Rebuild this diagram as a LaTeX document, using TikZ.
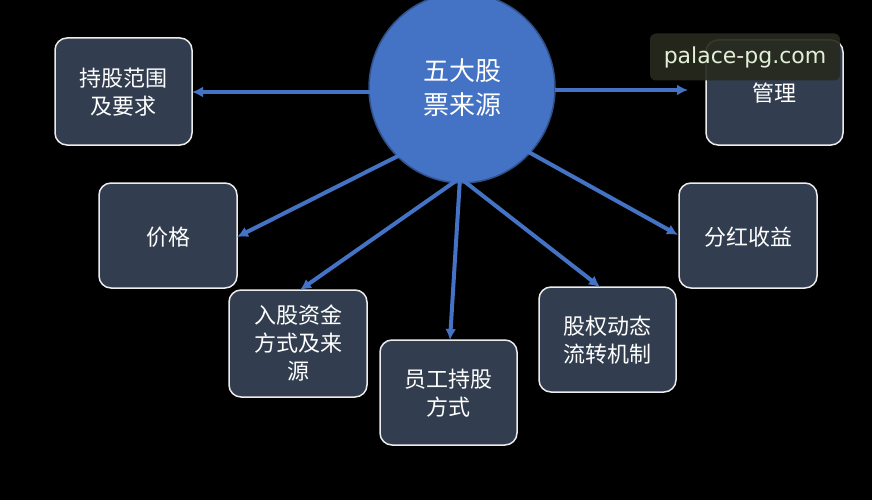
\documentclass[tikz,border=0pt]{standalone}
\usepackage{fontspec}
\setmainfont{Noto Sans CJK SC}
\newfontfamily\wm{DejaVu Sans}
\usetikzlibrary{arrows.meta,shapes.geometric}
\begin{document}
\begin{tikzpicture}[x=1pt,y=-1pt,
 box/.style={draw=white!85!gray,line width=1.5pt,fill=boxc,rounded corners=12pt},
 lab/.style={text=white,align=center,font=\fontsize{22}{28}\selectfont},
 arr/.style={draw=arrc,line width=4pt,-{Latex[length=11pt,width=11pt]}}]
\definecolor{boxc}{HTML}{323E4F}
\definecolor{arrc}{HTML}{4472C4}
\useasboundingbox (0,0) rectangle (872,500);
\clip (0,0) rectangle (872,500);
\fill[black] (0,0) rectangle (872,500);
\node[draw=arrc!70!black,line width=1.5pt,fill=arrc,ellipse,minimum width=186pt,minimum height=190pt,inner sep=0pt,text=white,align=center,font=\fontsize{26}{34}\selectfont] (c) at (462,88) {五大股\\票来源};
\path[box] (55,38) rectangle (192,145); \node[lab] (a) at (123.5,92) {持股范围\\及要求};
\path[box] (706,40) rectangle (843,145); \node[lab] (b) at (774.5,93) {管理};
\path[box] (99,183) rectangle (237,288); \node[lab] (p) at (168,237) {价格};
\path[box] (679,183) rectangle (817,288); \node[lab] (f) at (748,237) {分红收益};
\path[box] (229,290) rectangle (367,397); \node[lab] (r) at (298,343) {入股资金\\方式及来\\源};
\path[box] (380,340) rectangle (517,445); \node[lab] (y) at (448.5,393) {员工持股\\方式};
\path[box] (539,287) rectangle (676,392); \node[lab] (g) at (607.5,340) {股权动态\\流转机制};
\coordinate (a1) at (192,92); \coordinate (b1) at (688,90);
\coordinate (p1) at (237,237); \coordinate (f1) at (678,235);
\coordinate (r1) at (300,290); \coordinate (y1) at (450,340); \coordinate (g1) at (600,287);
\coordinate (c0) at (460,178); \coordinate (cl) at (372,92); \coordinate (cr) at (555,90);
\coordinate (cp) at (400,155); \coordinate (cf) at (525,150);
\draw[arr] (cl) -- (a1);
\draw[arr] (cr) -- (b1);
\draw[arr] (cp) -- (p1);
\draw[arr] (cf) -- (f1);
\draw[arr] (c0) -- (r1);
\draw[arr] (c0) -- (y1);
\draw[arr] (c0) -- (g1);
\node[fill={rgb,255:red,40;green,42;blue,30},fill opacity=0.92,text opacity=1,rounded corners=6pt,text={rgb,255:red,225;green,240;blue,215},font=\wm\fontsize{22}{26}\selectfont,minimum width=190pt,minimum height=47pt] (w) at (745,57) {palace-pg.com};
\end{tikzpicture}
\end{document}
